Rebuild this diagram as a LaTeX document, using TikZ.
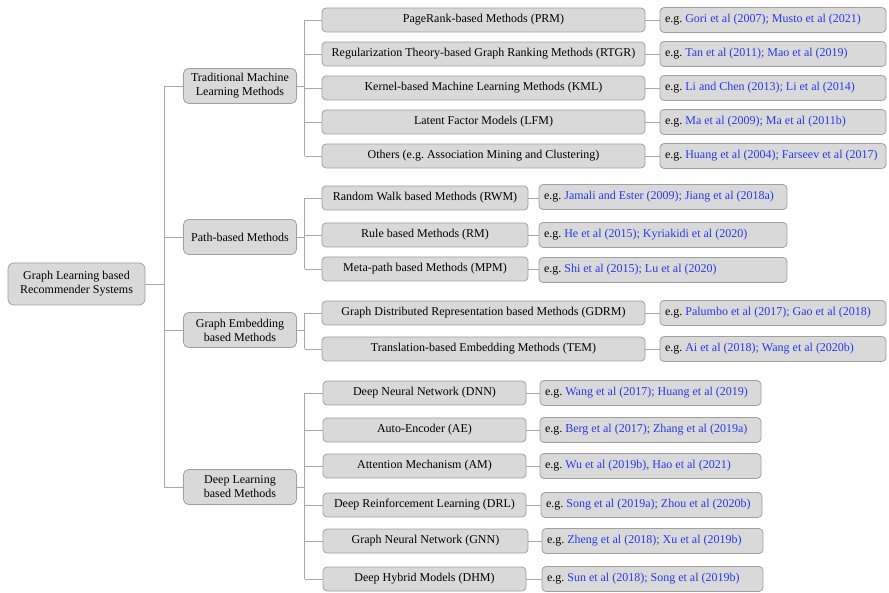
\documentclass[tikz,border=0pt]{standalone}
\usepackage{fontspec}
\setmainfont{Liberation Serif}
\usepackage{tikz}
\usetikzlibrary{calc}
\frenchspacing

\definecolor{boxfill}{RGB}{217,217,217}
\definecolor{boxline}{RGB}{160,160,160}
\definecolor{linkgray}{RGB}{168,168,168}
\definecolor{citeblue}{RGB}{38,58,232}

\newcommand{\egref}[1]{e.g.\ \textcolor{citeblue}{#1}}

\tikzset{
	gbox/.style={draw=boxline, fill=boxfill, rounded corners=4pt, inner sep=0pt, line width=0.8pt, font=\fontsize{12}{14}\selectfont},
	rootbox/.style={gbox, minimum width=137pt, minimum height=42pt, align=center, rounded corners=6pt},
	catbox/.style={gbox, minimum width=113pt, minimum height=35pt, align=center, rounded corners=5pt},
	leafbox/.style={gbox, minimum height=24pt},
	refbox/.style={gbox, minimum height=25pt, inner xsep=5pt, align=flush left},
	link/.style={draw=linkgray, line width=0.9pt}
}

\begin{document}
\begin{tikzpicture}[x=1pt, y=-1pt]
		\useasboundingbox (0,0) rectangle (889,593);
		
		% root and categories
		\node[rootbox] (root) at (76.5,284) {Graph Learning based\\Recommender Systems};
		\node[catbox] (tml) at (240,86) {Traditional Machine\\Learning Methods};
		\node[catbox] (pbm) at (240,237) {Path-based Methods};
		\node[catbox] (gem) at (240,330) {Graph Embedding\\based Methods};
		\node[catbox] (dlm) at (240,487) {Deep Learning\\based Methods};
		
		% traditional machine learning and graph embedding
		\begin{scope}[every node/.append style={minimum width=323pt}]
		\node[leafbox] (prm) at (483.5,20) {PageRank-based Methods (PRM)};
		\node[leafbox] (rtgr) at (483.5,54) {Regularization Theory-based Graph Ranking Methods (RTGR)};
		\node[leafbox] (kml) at (483.5,88) {Kernel-based Machine Learning Methods (KML)};
		\node[leafbox] (lfm) at (483.5,122) {Latent Factor Models (LFM)};
		\node[leafbox] (oth) at (483.5,156) {Others (e.g. Association Mining and Clustering)};
		\node[leafbox] (gdrm) at (483.5,313) {Graph Distributed Representation based Methods (GDRM)};
		\node[leafbox] (tem) at (483.5,349) {Translation-based Embedding Methods (TEM)};
		\end{scope}
		\begin{scope}[every node/.append style={text width=216pt}]
		\node[refbox] (prm-r) at (773,20) {\egref{Gori et al (2007); Musto et al (2021)}};
		\node[refbox] (rtgr-r) at (773,54) {\egref{Tan et al (2011); Mao et al (2019)}};
		\node[refbox] (kml-r) at (773,88) {\egref{Li and Chen (2013); Li et al (2014)}};
		\node[refbox] (lfm-r) at (773,122) {\egref{Ma et al (2009); Ma et al (2011b)}};
		\node[refbox] (oth-r) at (773,156) {\egref{Huang et al (2004); Farseev et al (2017)}};
		\node[refbox] (gdrm-r) at (773,313) {\egref{Palumbo et al (2017); Gao et al (2018)}};
		\node[refbox] (tem-r) at (773,349) {\egref{Ai et al (2018); Wang et al (2020b)}};
		\end{scope}
		
		% path-based
		\begin{scope}[every node/.append style={minimum width=206pt}]
		\node[leafbox] (rwm) at (425,198) {Random Walk based Methods (RWM)};
		\node[leafbox] (rm) at (425,235) {Rule based Methods (RM)};
		\node[leafbox] (mpm) at (425,269) {Meta-path based Methods (MPM)};
		\end{scope}
		\begin{scope}[every node/.append style={text width=238pt}]
		\node[refbox] (rwm-r) at (663,197) {\egref{Jamali and Ester (2009); Jiang et al (2018a)}};
		\node[refbox] (rm-r) at (663,235) {\egref{He et al (2015); Kyriakidi et al (2020)}};
		\node[refbox] (mpm-r) at (663,270) {\egref{Shi et al (2015); Lu et al (2020)}};
		\end{scope}
		
		% deep learning
		\begin{scope}[every node/.append style={minimum width=203pt}]
		\node[leafbox] (dnn) at (424.5,393) {Deep Neural Network (DNN)};
		\node[leafbox] (ae) at (424.5,430) {Auto-Encoder (AE)};
		\node[leafbox] (am) at (424.5,466) {Attention Mechanism (AM)};
		\node[leafbox] (drl) at (424.5,505) {Deep Reinforcement Learning (DRL)};
		\node[leafbox, minimum width=205pt] (gnn) at (425.5,541) {Graph Neural Network (GNN)};
		\node[leafbox] (dhm) at (424.5,579) {Deep Hybrid Models (DHM)};
		\end{scope}
		\begin{scope}[every node/.append style={text width=211pt}]
		\node[refbox] (dnn-r) at (650.5,393) {\egref{Wang et al (2017); Huang et al (2019)}};
		\node[refbox] (ae-r) at (650.5,430) {\egref{Berg et al (2017); Zhang et al (2019a)}};
		\node[refbox] (am-r) at (650.5,466) {\egref{Wu et al (2019b), Hao et al (2021)}};
		\node[refbox] (drl-r) at (651.5,505) {\egref{Song et al (2019a); Zhou et al (2020b)}};
		\node[refbox] (gnn-r) at (652.5,541) {\egref{Zheng et al (2018); Xu et al (2019b)}};
		\node[refbox] (dhm-r) at (652.5,579) {\egref{Sun et al (2018); Song et al (2019b)}};
		\end{scope}
		
		% trunk
		\coordinate (t0) at ($(root.east)+(19,0)$);
		\coordinate (t1) at ($(tml.east)+(8,0)$);
		\draw[link] (root.east) -- (t0);
		\draw[link] (t0 |- tml.west) -- (t0 |- dlm.west);
		\foreach \c in {tml,pbm,gem,dlm}
			\draw[link] (t0 |- \c.west) -- (\c.west);
		
		% branches
		\draw[link] (t1 |- prm.west) -- (t1 |- oth.west);
		\draw[link] (t1 |- rwm.west) -- (t1 |- mpm.west);
		\draw[link] (t1 |- gdrm.west) -- (t1 |- tem.west);
		\draw[link] (t1 |- dnn.west) -- (t1 |- dhm.west);
		\foreach \c in {tml,pbm,gem,dlm}
			\draw[link] (\c.east) -- (t1 |- \c.east);
		\foreach \c in {prm,rtgr,kml,lfm,oth,rwm,rm,mpm,gdrm,tem,dnn,ae,am,drl,gnn,dhm} {
			\draw[link] (t1 |- \c.west) -- (\c.west);
			\draw[link] (\c.east) -- (\c-r.west |- \c.east);
		}
		
		\end{tikzpicture}
\end{document}
